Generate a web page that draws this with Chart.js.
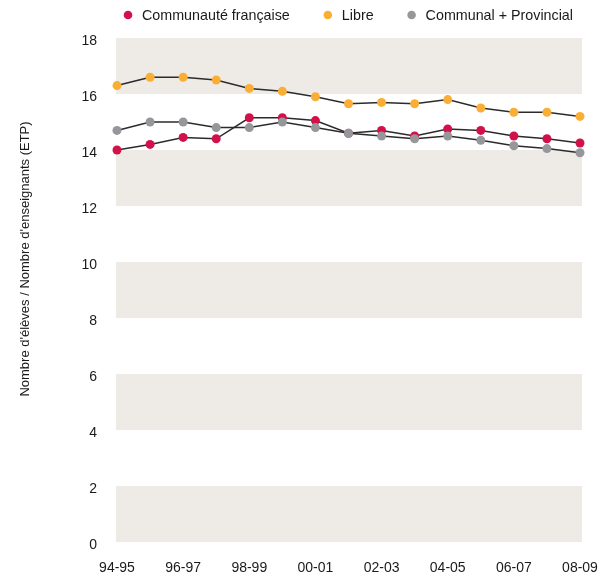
<!DOCTYPE html>
<html>
<head>
<meta charset="utf-8">
<script src="https://cdn.jsdelivr.net/npm/chart.js@4.4.0/dist/chart.umd.min.js"></script>
<style>
  html, body { margin: 0; padding: 0; background: #fff; }
  #wrap { width: 609px; height: 576px; }
</style>
</head>
<body>
<div id="wrap"><canvas id="ratioChart"></canvas></div>
<script>
// school years (only every other one gets a label on the axis)
const years = ["94-95", "95-96", "96-97", "97-98", "98-99", "99-00", "00-01", "01-02",
               "02-03", "03-04", "04-05", "05-06", "06-07", "07-08", "08-09"];

// pupils per teacher (ETP)
const communauteFr = [14.0, 14.2, 14.45, 14.4, 15.15, 15.15, 15.05, 14.6, 14.7, 14.5, 14.75, 14.7, 14.5, 14.4, 14.25];
const libre        = [16.3, 16.6, 16.6, 16.5, 16.2, 16.1, 15.9, 15.65, 15.7, 15.65, 15.8, 15.5, 15.35, 15.35, 15.2];
const communalProv = [14.7, 15.0, 15.0, 14.8, 14.8, 15.0, 14.8, 14.6, 14.5, 14.4, 14.5, 14.35, 14.15, 14.05, 13.9];

const yTicks = [0, 2, 4, 6, 8, 10, 12, 14, 16, 18];
const shadedBands = [[0, 2], [4, 6], [8, 10], [12, 14], [16, 18]];

const FONT = '"Liberation Sans", Arial, sans-serif';
const TEXT = '#1a1a1a';

// beige horizontal bands behind the lines (a touch wider than the first/last point)
const bandsPlugin = {
    id: 'bands',
    beforeDatasetsDraw(chart) {
        const { ctx, chartArea, scales: { y } } = chart;
        ctx.save();
        ctx.fillStyle = '#eeebe6';
        shadedBands.forEach(([lo, hi]) => {
            const top = y.getPixelForValue(hi);
            const bottom = y.getPixelForValue(lo);
            ctx.fillRect(chartArea.left - 1, top, chartArea.right - chartArea.left + 3, bottom - top);
        });
        ctx.restore();
    }
};

// legend row on top + rotated y title (drawn by hand so it sits where the original has it)
const legendAndTitle = {
    id: 'legendAndTitle',
    afterDraw(chart) {
        const { ctx, chartArea } = chart;
        ctx.save();
        ctx.font = '14.3px ' + FONT;
        ctx.textBaseline = 'middle';
        ctx.fillStyle = TEXT;
        const gap = 34;
        const items = chart.data.datasets.map(ds => ({
            text: ds.label,
            color: ds.pointBackgroundColor,
            w: 18 + ctx.measureText(ds.label).width
        }));
        const total = items.reduce((s, it) => s + it.w, 0) + gap * (items.length - 1);
        let x = (chartArea.left + chartArea.right) / 2 - total / 2;
        const yMid = 15;
        items.forEach(it => {
            ctx.beginPath();
            ctx.fillStyle = it.color;
            ctx.arc(x + 4, yMid, 4.3, 0, Math.PI * 2);
            ctx.fill();
            ctx.fillStyle = TEXT;
            ctx.fillText(it.text, x + 18, yMid + 1);
            x += it.w + gap;
        });

        ctx.translate(25, 259);
        ctx.rotate(-Math.PI / 2);
        ctx.textAlign = 'center';
        ctx.font = '13px ' + FONT;
        ctx.fillText("Nombre d'élèves / Nombre d'enseignants (ETP)", 0, 0);
        ctx.restore();
    }
};

const lineStyle = {
    borderColor: '#2b2b2b',
    borderWidth: 1.5,
    pointRadius: 4.5,
    pointHoverRadius: 4.5,
    pointBorderWidth: 0,
    tension: 0,
    clip: false
};

new Chart(document.getElementById('ratioChart'), {
    type: 'line',
    data: {
        labels: years,
        datasets: [
            { ...lineStyle, label: 'Communauté française', data: communauteFr, pointBackgroundColor: '#d2104a', order: 3 },
            { ...lineStyle, label: 'Libre', data: libre, pointBackgroundColor: '#fbae35', order: 2 },
            { ...lineStyle, label: 'Communal + Provincial', data: communalProv, pointBackgroundColor: '#96979a', order: 1 }
        ]
    },
    options: {
        responsive: true,
        maintainAspectRatio: false,
        animation: false,
        layout: { padding: { top: 38, right: 29, bottom: 0, left: 0 } },
        plugins: {
            legend: { display: false },
            tooltip: { enabled: false }
        },
        scales: {
            x: {
                offset: false,
                grid: { display: false, drawTicks: false },
                border: { display: false },
                ticks: {
                    autoSkip: false,
                    maxRotation: 0,
                    padding: 18,
                    color: TEXT,
                    font: { family: FONT, size: 14 },
                    callback: function (val, i) {
                        return i % 2 === 0 ? this.getLabelForValue(val) : '';
                    }
                },
                afterFit: scale => {
                    scale.height = 34;
                    // the end labels overhang; room for them comes from layout padding
                    scale.paddingLeft = 0;
                    scale.paddingRight = 0;
                }
            },
            y: {
                min: 0,
                max: 18,
                afterBuildTicks: scale => { scale.ticks = yTicks.map(v => ({ value: v })); },
                grid: { display: false, drawTicks: false },
                border: { display: false },
                ticks: {
                    padding: 20,
                    labelOffset: 3,
                    color: TEXT,
                    font: { family: FONT, size: 14 }
                },
                afterFit: scale => { scale.width = 117; }
            }
        }
    },
    plugins: [bandsPlugin, legendAndTitle]
});
</script>
</body>
</html>
